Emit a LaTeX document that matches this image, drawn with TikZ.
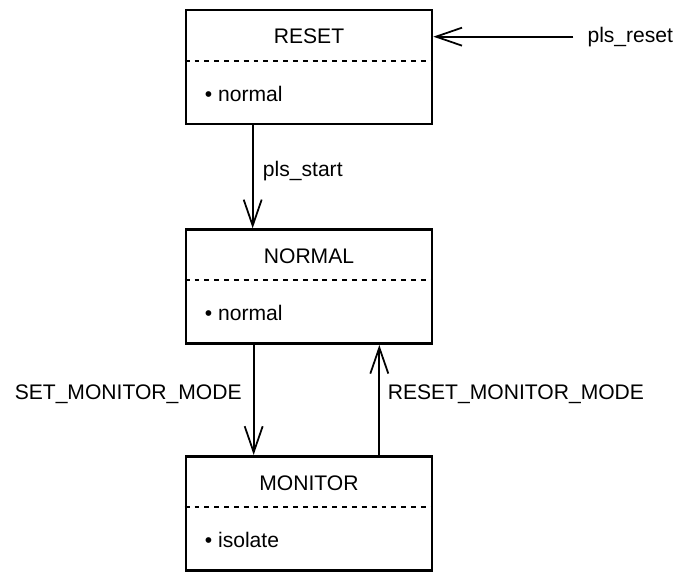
\documentclass[tikz,border=0pt]{standalone}
\usepackage{fontspec}
\setmainfont{Liberation Sans}
\usepackage{tikz}
\usetikzlibrary{positioning}
\usetikzlibrary{arrows.meta}

\tikzset{
    statebox/.style={draw, line width=1.5pt, minimum width=4.92cm, minimum height=2.28cm},
    sepline/.style={line width=1pt, dash pattern=on 2.8pt off 2.8pt},
    trans/.style={line width=1pt, -{Straight Barb[length=0.52cm,width=0.36cm,line width=1pt]}},
}

\begin{document}
\begin{tikzpicture}[font=\fontsize{12}{14}\selectfont]

    \useasboundingbox (0,0) rectangle (13.5,-11.5);

    %S: RESET state
    \node[statebox] (reset) at (6.18,-1.34) {};
    \node at ([yshift=-0.56cm]reset.north) (resettitle) {RESET};
    \draw[sepline] ([yshift=-1.04cm]reset.north west) -- ([yshift=-1.04cm]reset.north east);
    \node[anchor=west] at ([xshift=0.28cm,yshift=-1.7cm]reset.north west) (resetitem) {\textbullet\ normal};

    % ------------------

    %S: NORMAL state
    \node[statebox, below=2.06cm of reset] (normal) {};
    \node at ([yshift=-0.56cm]normal.north) (normaltitle) {NORMAL};
    \draw[sepline] ([yshift=-1.04cm]normal.north west) -- ([yshift=-1.04cm]normal.north east);
    \node[anchor=west] at ([xshift=0.28cm,yshift=-1.7cm]normal.north west) (normalitem) {\textbullet\ normal};

    % ------------------

    %S: MONITOR state
    \node[statebox, below=2.2cm of normal] (monitor) {};
    \node at ([yshift=-0.56cm]monitor.north) (monitortitle) {MONITOR};
    \draw[sepline] ([yshift=-1.04cm]monitor.north west) -- ([yshift=-1.04cm]monitor.north east);
    \node[anchor=west] at ([xshift=0.28cm,yshift=-1.7cm]monitor.north west) (monitoritem) {\textbullet\ isolate};

    % ------------------

    % external event
    \node[anchor=west] at ([xshift=2.96cm,yshift=-0.56cm]reset.north east) (plsreset) {pls\_reset};

    % transitions
    \draw[trans] ([xshift=-0.16cm]plsreset.west) -- (plsreset.west -| reset.east);
    \draw[trans] ([xshift=1.36cm]reset.south west) -- ([xshift=1.36cm]normal.north west)
    node[midway, right, xshift=2pt, yshift=3pt] (plsstart) {pls\_start};
    \draw[trans] ([xshift=1.38cm]normal.south west) -- ([xshift=1.38cm]monitor.north west)
    node[midway, left, xshift=-3pt, yshift=3pt] (setmon) {SET\_MONITOR\_MODE};
    \draw[trans] ([xshift=-1.08cm]monitor.north east) -- ([xshift=-1.08cm]normal.south east)
    node[midway, right, xshift=1pt, yshift=3pt] (resetmon) {RESET\_MONITOR\_MODE};
\end{tikzpicture}
\end{document}
